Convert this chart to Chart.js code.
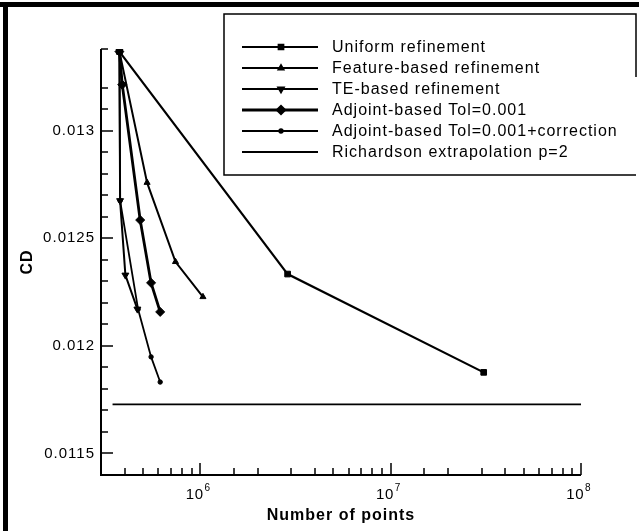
<!DOCTYPE html>
<html>
<head>
<meta charset="utf-8">
<script src="https://cdn.jsdelivr.net/npm/chart.js@4"></script>
<style>
  html, body { margin: 0; padding: 0; background: #fff; }
  #wrap { width: 639px; height: 531px; }
</style>
</head>
<body>
<div id="wrap"><canvas id="myChart" width="639" height="531"></canvas></div>
<script>
// number of points / CD
const nUniform = [3.75e5, 2.87e6, 3.08e7];
const cdUniform = [0.013368, 0.012334, 0.011877];

const nFeature = [3.75e5, 5.24e5, 7.39e5, 1.03e6];
const cdFeature = [0.013368, 0.012759, 0.012391, 0.012228];

const nTE = [3.75e5, 3.78e5, 4.03e5, 4.66e5];
const cdTE = [0.013368, 0.012675, 0.012329, 0.012171];

const nAdjoint = [3.75e5, 3.88e5, 4.82e5, 5.50e5, 6.14e5];
const cdAdjoint = [0.013368, 0.013214, 0.012585, 0.012293, 0.012158];

const nCorrected = [3.75e5, 3.78e5, 4.70e5, 5.50e5, 6.14e5];
const cdCorrected = [0.013368, 0.012675, 0.012170, 0.011949, 0.011832];

const nRichardson = [3.45e5, 1e8];
const cdRichardson = [0.011728, 0.011728];

const xExponents = [6, 7, 8];

function pts(xs, ys) {
  return xs.map(function(x, i) { return {x: x, y: ys[i]}; });
}

function series(label, xs, ys, style, radius, width, rot) {
  return {
    label: label,
    data: pts(xs, ys),
    showLine: true,
    borderColor: '#000',
    backgroundColor: '#000',
    borderWidth: width,
    pointStyle: style,
    pointRadius: radius,
    pointRotation: rot || 0,
    pointBorderWidth: 1,
    tension: 0
  };
}

const datasets = [
  series('Uniform refinement', nUniform, cdUniform, 'rect', 4, 2.2),
  series('Feature-based refinement', nFeature, cdFeature, 'triangle', 3.5, 2),
  series('TE-based refinement', nTE, cdTE, 'triangle', 4, 2, 180),
  series('Adjoint-based Tol=0.001', nAdjoint, cdAdjoint, 'rectRot', 4.5, 2.8),
  series('Adjoint-based Tol=0.001+correction', nCorrected, cdCorrected, 'circle', 2.2, 1.8),
  series('Richardson extrapolation p=2', nRichardson, cdRichardson, false, 0, 1.8)
];

const FONT = '"Liberation Sans", Arial, sans-serif';

// frame, axis lines, inward ticks, legend box
const decor = {
  id: 'decor',
  beforeDraw: function(chart) {
    chart.ctx.letterSpacing = '1px';
  },
  afterDraw: function(chart) {
    const ctx = chart.ctx;
    const a = chart.chartArea;
    const xs = chart.scales.x;
    const ys = chart.scales.y;
    ctx.save();
    ctx.strokeStyle = '#000';
    ctx.fillStyle = '#000';

    // outer frame
    ctx.fillRect(0, 2, 639, 5);
    ctx.fillRect(3, 2, 5, 529);

    // axes
    ctx.lineWidth = 2;
    ctx.beginPath();
    ctx.moveTo(a.left, a.top);
    ctx.lineTo(a.left, a.bottom);
    ctx.lineTo(a.right, a.bottom);
    ctx.stroke();

    ctx.lineWidth = 1.5;
    ctx.beginPath();
    xs.ticks.forEach(function(t) {
      const px = Math.round(xs.getPixelForValue(t.value));
      const p = Math.log10(t.value);
      const major = Math.abs(p - Math.round(p)) < 1e-6;
      ctx.moveTo(px, a.bottom);
      ctx.lineTo(px, a.bottom - (major ? 12 : 7));
    });
    ys.ticks.forEach(function(t) {
      const py = Math.round(ys.getPixelForValue(t.value));
      const major = Math.round(t.value * 1e4) % 5 === 0;
      ctx.moveTo(a.left, py);
      ctx.lineTo(a.left + (major ? 12 : 7), py);
    });
    ctx.stroke();

    // x tick labels 10^n
    ctx.letterSpacing = '0.5px';
    ctx.textBaseline = 'alphabetic';
    xExponents.forEach(function(e) {
      const px = xs.getPixelForValue(Math.pow(10, e));
      ctx.font = '15px ' + FONT;
      ctx.textAlign = 'right';
      ctx.fillText('10', px + 3, 499);
      ctx.font = '10px ' + FONT;
      ctx.textAlign = 'left';
      ctx.fillText(String(e), px + 4, 491);
    });

    // legend
    const bx = 224, by = 14, br = 636, bb = 175;
    ctx.lineWidth = 1.5;
    ctx.beginPath();
    ctx.moveTo(br, 77);
    ctx.lineTo(br, by);
    ctx.lineTo(bx, by);
    ctx.lineTo(bx, bb);
    ctx.lineTo(br, bb);
    ctx.stroke();
    ctx.letterSpacing = '1px';
    ctx.font = '16px ' + FONT;
    ctx.textAlign = 'left';
    ctx.textBaseline = 'middle';
    chart.data.datasets.forEach(function(ds, i) {
      const y = 47 + i * 21;
      ctx.lineWidth = ds.borderWidth;
      ctx.beginPath();
      ctx.moveTo(242, y);
      ctx.lineTo(318, y);
      ctx.stroke();
      if (ds.pointStyle) {
        Chart.helpers.drawPoint(ctx, {
          pointStyle: ds.pointStyle,
          rotation: ds.pointRotation,
          radius: ds.pointRadius * 0.8,
          borderWidth: 1
        }, 281, y);
      }
      ctx.fillText(ds.label, 332, y + 1);
    });
    ctx.restore();
  }
};

const config = {
  type: 'scatter',
  data: { datasets: datasets },
  options: {
    responsive: false,
    animation: false,
    layout: { padding: { top: 49, right: 58, left: 18, bottom: 0 } },
    plugins: {
      legend: { display: false },
      tooltip: { enabled: false }
    },
    scales: {
      x: {
        type: 'logarithmic',
        min: 3e5,
        max: 1e8,
        grid: { display: false, drawTicks: false },
        border: { display: false },
        afterFit: function(s) { s.height = 56; },
        ticks: {
          autoSkip: false,
          maxRotation: 0,
          callback: function() { return ''; }
        },
        title: {
          display: true,
          text: 'Number of points',
          color: '#000',
          font: { family: FONT, size: 16, weight: 'bold' },
          padding: { top: 0, bottom: 6 }
        }
      },
      y: {
        type: 'linear',
        min: 0.0114,
        max: 0.01338,
        grid: { display: false, drawTicks: false },
        border: { display: false },
        afterFit: function(s) { s.width = 83; },
        ticks: {
          stepSize: 0.0001,
          autoSkip: false,
          padding: 6,
          color: '#000',
          font: { family: FONT, size: 15 },
          callback: function(v) {
            if (Math.round(v * 1e4) % 5 === 0) return String(Number(v.toFixed(4)));
            return '';
          }
        },
        title: {
          display: true,
          text: 'CD',
          color: '#000',
          font: { family: FONT, size: 16, weight: 'bold' },
          padding: { top: 0, bottom: 0 }
        }
      }
    }
  },
  plugins: [decor]
};

const myChart = new Chart(document.getElementById('myChart'), config);
</script>
</body>
</html>
